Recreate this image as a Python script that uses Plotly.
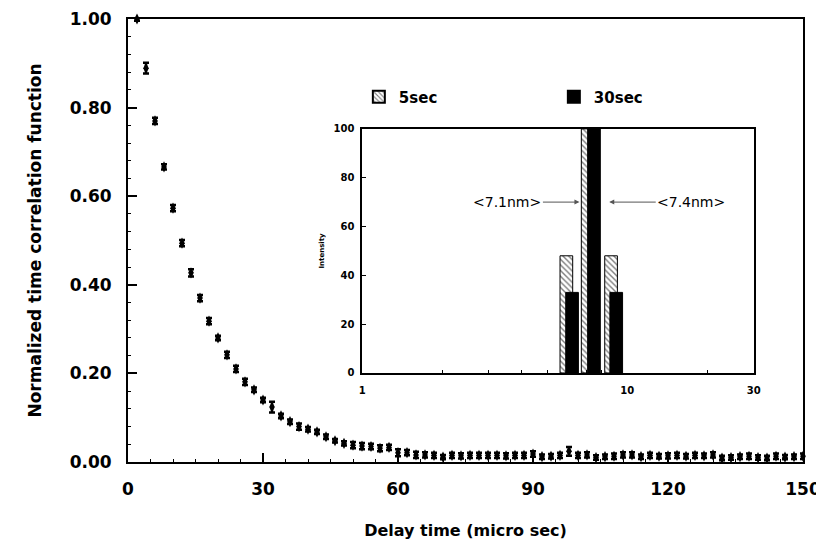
import math
import plotly.graph_objects as go

# ---------------- data ----------------
delay_time = list(range(2, 152, 2))  # micro sec
correlation = [
    1.000, 0.889, 0.770, 0.666, 0.573, 0.494, 0.427, 0.370, 0.318, 0.280,
    0.242, 0.210, 0.181, 0.163, 0.140, 0.124, 0.104, 0.091, 0.080, 0.074,
    0.068, 0.057, 0.048, 0.042, 0.038, 0.036, 0.035, 0.031, 0.033, 0.021,
    0.021, 0.016, 0.016, 0.015, 0.011, 0.015, 0.014, 0.015, 0.015, 0.015,
    0.015, 0.014, 0.015, 0.015, 0.018, 0.012, 0.013, 0.015, 0.024, 0.015,
    0.016, 0.010, 0.012, 0.013, 0.016, 0.016, 0.012, 0.015, 0.013, 0.014,
    0.015, 0.013, 0.015, 0.014, 0.016, 0.009, 0.010, 0.012, 0.013, 0.010,
    0.009, 0.013, 0.011, 0.012, 0.013,
]
correlation_err = [
    0.004, 0.012, 0.007, 0.006, 0.007, 0.007, 0.008, 0.007, 0.007, 0.005,
    0.007, 0.007, 0.007, 0.005, 0.005, 0.012, 0.005, 0.005, 0.007, 0.005,
    0.005, 0.005, 0.004, 0.005, 0.007, 0.007, 0.006, 0.007, 0.006, 0.008,
    0.006, 0.007, 0.006, 0.006, 0.005, 0.006, 0.006, 0.006, 0.006, 0.006,
    0.006, 0.006, 0.006, 0.006, 0.006, 0.005, 0.005, 0.006, 0.010, 0.006,
    0.006, 0.005, 0.005, 0.006, 0.006, 0.006, 0.005, 0.006, 0.005, 0.006,
    0.006, 0.005, 0.006, 0.005, 0.006, 0.005, 0.005, 0.005, 0.006, 0.005,
    0.005, 0.006, 0.005, 0.005, 0.006,
]
assert len(delay_time) == len(correlation) == len(correlation_err)

size_5sec = [5.9, 7.1, 8.7]        # nm
intensity_5sec = [48, 100, 48]
size_30sec = [6.2, 7.5, 9.1]       # nm
intensity_30sec = [33, 100, 33]

main_xticks = [0, 30, 60, 90, 120, 150]
main_yticks = [0.0, 0.2, 0.4, 0.6, 0.8, 1.0]
inset_xticks = [1, 10, 30]
inset_xminor = [2, 3, 4, 5, 6, 7, 8, 9, 20]
inset_yticks = [0, 20, 40, 60, 80, 100]

label_71 = "<7.1nm>"
label_74 = "<7.4nm>"

# ---------------- figure ----------------
FONT = "DejaVu Sans, Liberation Sans, Arial, sans-serif"
BAR_REL_WIDTH = 0.11

fig = go.Figure()

fig.add_trace(go.Scatter(
    x=delay_time, y=correlation, mode="markers",
    marker=dict(symbol="diamond-tall", size=8, color="black"),
    error_y=dict(type="data", array=correlation_err, color="black",
                 thickness=2.5, width=3),
    cliponaxis=False, showlegend=False, xaxis="x", yaxis="y",
))

fig.add_trace(go.Bar(
    x=size_5sec, y=intensity_5sec, name="5sec",
    width=[s * BAR_REL_WIDTH for s in size_5sec],
    marker=dict(color="white", line=dict(color="black", width=1),
                pattern=dict(shape="\\", fgcolor="black", bgcolor="white",
                             size=4, solidity=0.35)),
    xaxis="x2", yaxis="y2",
))
fig.add_trace(go.Bar(
    x=size_30sec, y=intensity_30sec, name="30sec",
    width=[s * BAR_REL_WIDTH for s in size_30sec],
    marker=dict(color="black", line=dict(color="black", width=1)),
    xaxis="x2", yaxis="y2",
))

axis_common = dict(showgrid=False, zeroline=False, color="black", automargin=False)

fig.update_layout(
    width=816, height=541,
    margin=dict(l=120, r=21, t=11, b=87),
    paper_bgcolor="white", plot_bgcolor="white",
    font=dict(family=FONT, color="black"),
    barmode="overlay",
    xaxis=dict(
        **axis_common, range=[0, 150], tickvals=main_xticks,
        showline=True, linewidth=2, linecolor="black", mirror=True,
        ticks="inside", ticklen=9, tickwidth=2, tickcolor="black",
        minor=dict(dtick=5, ticks="inside", ticklen=3, tickwidth=1, tickcolor="black"),
        tickfont=dict(size=17, family=FONT, weight="bold"),
        ticklabelstandoff=11,
        title=dict(text="<b>Delay time (micro sec)</b>", font=dict(size=16), standoff=26),
    ),
    yaxis=dict(
        **axis_common, range=[0, 1], tickvals=main_yticks, tickformat=".2f",
        showline=True, linewidth=2, linecolor="black", mirror=True,
        ticks="inside", ticklen=9, tickwidth=2, tickcolor="black",
        minor=dict(dtick=0.04, ticks="inside", ticklen=3, tickwidth=1, tickcolor="black"),
        tickfont=dict(size=17, family=FONT, weight="bold"),
        ticklabelstandoff=11,
        title=dict(text="<b>Normalized time correlation function</b>", font=dict(size=17), standoff=24),
    ),
    xaxis2=dict(
        **axis_common, type="log", range=[0, math.log10(30)],
        domain=[0.347, 0.927], anchor="y2",
        tickvals=inset_xticks, ticktext=[str(v) for v in inset_xticks],
        showline=True, linewidth=1.5, linecolor="black", mirror=True,
        ticks="", minor=dict(tickvals=inset_xminor, ticks="inside", ticklen=3,
                              tickwidth=1, tickcolor="black"),
        tickfont=dict(size=10, family=FONT, weight="bold"),
        ticklabelstandoff=7,
    ),
    yaxis2=dict(
        **axis_common, range=[0, 100], domain=[0.201, 0.752], anchor="x2",
        tickvals=inset_yticks,
        showline=True, linewidth=1.5, linecolor="black", mirror=True,
        ticks="inside", ticklen=4, tickwidth=1, tickcolor="black",
        tickfont=dict(size=10, family=FONT, weight="bold"),
        ticklabelstandoff=4,
        title=dict(text="<b>Intensity</b>", font=dict(size=7), standoff=8),
    ),
    legend=dict(
        orientation="h", x=0.342, y=0.861, xanchor="left", yanchor="top",
        font=dict(size=15, family=FONT, weight="bold"),
        entrywidth=150, entrywidthmode="pixels",
        bgcolor="rgba(0,0,0,0)", itemsizing="constant",
    ),
    annotations=[
        dict(x=math.log10(6.6), y=70, xref="x2", yref="y2", text=label_71,
             showarrow=True, ax=-72, ay=0, arrowhead=2, arrowsize=1, arrowwidth=1,
             arrowcolor="#555555", font=dict(size=14, family=FONT), standoff=0),
        dict(x=math.log10(8.55), y=70, xref="x2", yref="y2", text=label_74,
             showarrow=True, ax=82, ay=0, arrowhead=2, arrowsize=1, arrowwidth=1,
             arrowcolor="#555555", font=dict(size=14, family=FONT), standoff=0),
    ],
)

fig.write_html("out.html")
